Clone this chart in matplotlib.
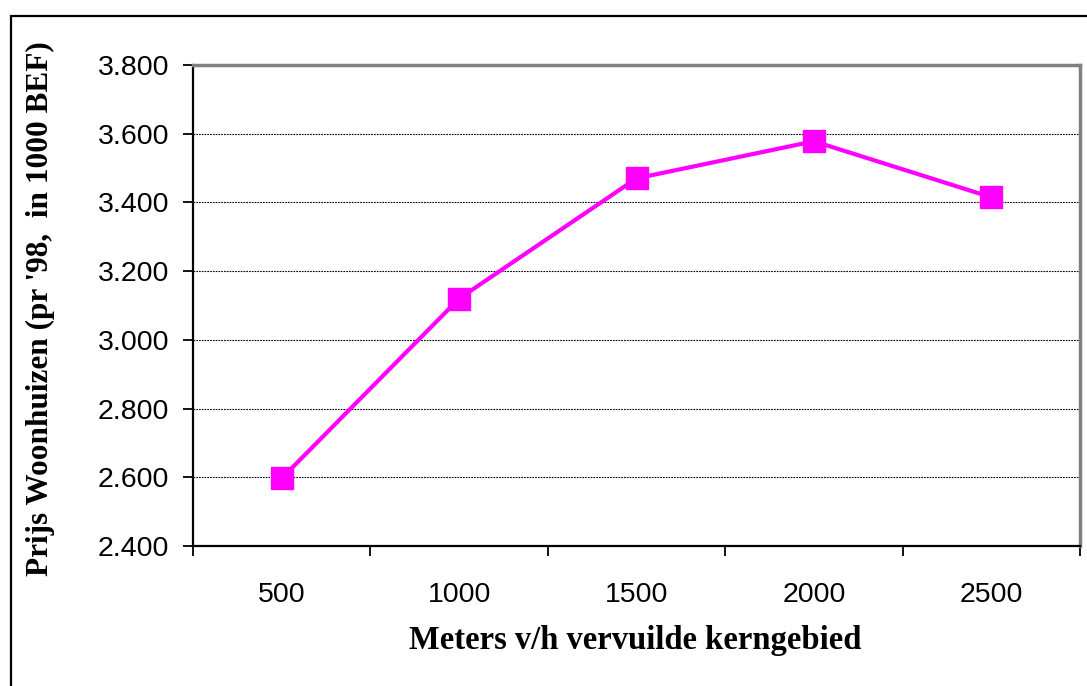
import matplotlib
matplotlib.use("Agg")
import matplotlib.pyplot as plt
from matplotlib.patches import Rectangle
from matplotlib.ticker import FixedLocator, FuncFormatter

# Distance to the polluted core area (m) and average house price (1000 BEF)
distances = ["500", "1000", "1500", "2000", "2500"]
prices = [2597, 3120, 3470, 3578, 3415]
y_ticks = [2400, 2600, 2800, 3000, 3200, 3400, 3600, 3800]

fig = plt.figure(figsize=(10.87, 6.86), dpi=100)
fig.patch.set_facecolor("white")

# Chart frame around the whole figure
W, H = 1087, 686
fig.patches.append(Rectangle((11 / W, -0.1), 1.2, (H - 16) / H + 0.1,
                             transform=fig.transFigure, fill=False,
                             edgecolor="black", linewidth=1.6, zorder=0))

ax = fig.add_axes([193 / W, 1 - 546 / H, (1080 - 193) / W, (546 - 65) / H])

x = list(range(len(distances)))
ax.plot(x, prices, color="#FF00FF", linewidth=3.0, marker="s",
        markersize=15.5, markerfacecolor="#FF00FF", markeredgecolor="#FF00FF",
        zorder=3, clip_on=False)

ax.set_xlim(-0.5, len(distances) - 0.5)
ax.set_ylim(2400, 3800)

# Category labels at centres, tick marks at category boundaries
ax.set_xticks(x)
ax.set_xticklabels(distances)
ax.xaxis.set_minor_locator(FixedLocator([i - 0.5 for i in range(len(distances) + 1)]))
ax.tick_params(axis="x", which="major", length=0, pad=26, labelsize=20.5)
ax.tick_params(axis="x", which="minor", length=7, width=1.3, direction="out", color="black")

ax.set_yticks(y_ticks)
ax.yaxis.set_major_formatter(FuncFormatter(lambda v, p: f"{int(v):,}".replace(",", ".")))
ax.tick_params(axis="y", length=7, width=1.3, direction="out", pad=10, labelsize=20.5)

for lab in ax.get_xticklabels() + ax.get_yticklabels():
    lab.set_fontfamily("Liberation Sans")

ax.grid(axis="y", color="black", linestyle=(0, (1.5, 1)), linewidth=0.8)
ax.set_axisbelow(True)

ax.spines["left"].set_color("black")
ax.spines["left"].set_linewidth(1.6)
ax.spines["bottom"].set_color("black")
ax.spines["bottom"].set_linewidth(1.6)
ax.spines["top"].set_color("#808080")
ax.spines["top"].set_linewidth(2.5)
ax.spines["right"].set_color("#808080")
ax.spines["right"].set_linewidth(2.5)

fig.text(635.5 / W, 1 - 641 / H, "Meters v/h vervuilde kerngebied",
         fontfamily="Liberation Serif", fontweight="bold", fontsize=23.5,
         ha="center", va="center")
fig.text(40 / W, 1 - 309 / H, "Prijs Woonhuizen (pr '98,  in 1000 BEF)",
         fontfamily="Liberation Serif", fontweight="bold", fontsize=22.5,
         ha="center", va="center", rotation=90)

fig.savefig("out.png", dpi=100, facecolor="white")
